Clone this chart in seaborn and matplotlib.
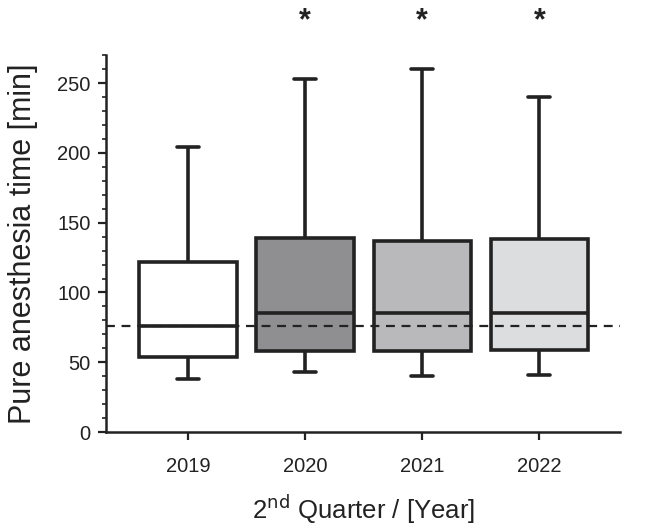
import pandas as pd
import numpy as np
import matplotlib
matplotlib.use("Agg")
import matplotlib.pyplot as plt
import seaborn as sns
from matplotlib.ticker import MultipleLocator

# five-number summaries: low whisker, Q1, median, Q3, high whisker
years = ['2019', '2020', '2021', '2022']
low_whisker = [38, 43, 40, 41]
q1 = [54, 58, 58, 59]
median = [76, 85, 85, 85]
q3 = [122, 139, 137, 138]
high_whisker = [204, 253, 260, 240]
significant = [False, True, True, True]
reference_line = 76
box_colors = ['#ffffff', '#8f8f92', '#b9b9bb', '#dcdddf']

# 5 values per group -> Q1/median/Q3 land exactly on them, whiskers to min/max
rows = []
for i, yr in enumerate(years):
    for v in [low_whisker[i], q1[i], median[i], q3[i], high_whisker[i]]:
        rows.append({'year': yr, 'minutes': v})
df = pd.DataFrame(rows)

sns.set_style('ticks')
plt.rcParams['font.family'] = ['Liberation Sans', 'DejaVu Sans']

fig = plt.figure(figsize=(6.46, 5.25), dpi=100)
ax = fig.add_axes([0.164, 0.177, 0.796, 0.718])

edge = '#222222'
lw = 2.6
sns.boxplot(data=df, x='year', y='minutes', hue='year', palette=box_colors,
            legend=False, whis=(0, 100), width=0.83, showfliers=False, ax=ax,
            linewidth=lw, linecolor=edge,
            boxprops=dict(edgecolor=edge, linewidth=lw),
            whiskerprops=dict(color=edge, linewidth=lw),
            capprops=dict(color=edge, linewidth=lw),
            medianprops=dict(color=edge, linewidth=lw))

# caps narrower than default
for line in ax.lines:
    xd = line.get_xdata()
    yd = line.get_ydata()
    if len(xd) == 2 and yd[0] == yd[1] and abs(xd[1] - xd[0]) < 0.5:
        c = (xd[0] + xd[1]) / 2
        line.set_xdata([c - 0.095, c + 0.095])

ax.axhline(reference_line, color=edge, linestyle=(0, (4, 3)), linewidth=1.6, zorder=5)

for i, sig in enumerate(significant):
    if sig:
        ax.text(i, 294, '*', ha='center', va='center', fontsize=22,
                fontweight='bold', color=edge, clip_on=False)

ax.set_xlim(-0.70, 3.69)
ax.set_ylim(0, 270)
ax.yaxis.set_major_locator(MultipleLocator(50))
ax.yaxis.set_minor_locator(MultipleLocator(10))
ax.tick_params(axis='both', which='major', length=6, width=1.6, labelsize=14.5,
               color=edge, labelcolor='#222222')
ax.tick_params(axis='y', which='minor', length=3, width=1.2, color=edge)
ax.tick_params(axis='x', pad=12)
ax.tick_params(axis='y', pad=5)

for s in ['left', 'bottom']:
    ax.spines[s].set_linewidth(1.8)
    ax.spines[s].set_color(edge)
sns.despine(ax=ax)

ax.set_ylabel('Pure anesthesia time [min]', fontsize=22, color='#222222', labelpad=14)
ax.set_xlabel('2$^{\\mathrm{nd}}$ Quarter / [Year]', fontsize=18.5, color='#222222', labelpad=12)

fig.savefig('out.png', dpi=100)
